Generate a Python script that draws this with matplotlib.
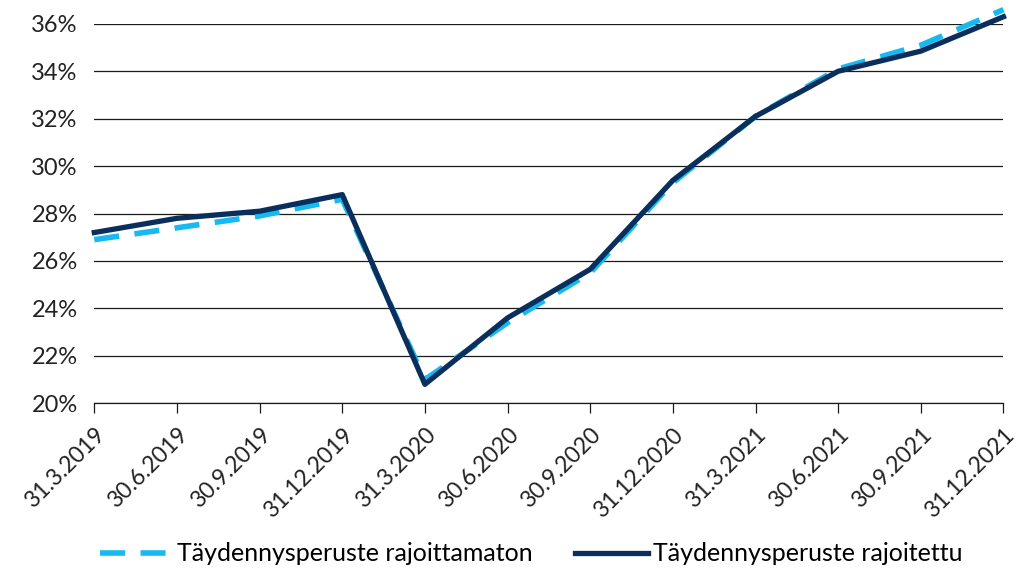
import matplotlib.pyplot as plt
from matplotlib.ticker import FuncFormatter

plt.rcParams['font.family'] = ['Lato', 'DejaVu Sans']

dates = ["31.3.2019", "30.6.2019", "30.9.2019", "31.12.2019",
         "31.3.2020", "30.6.2020", "30.9.2020", "31.12.2020",
         "31.3.2021", "30.6.2021", "30.9.2021", "31.12.2021"]

rajoittamaton = [26.9, 27.4, 27.9, 28.6, 21.0, 23.4, 25.5, 29.3, 32.1, 34.1, 35.1, 36.6]
rajoitettu = [27.2, 27.8, 28.1, 28.8, 20.8, 23.6, 25.65, 29.4, 32.1, 34.0, 34.85, 36.3]

light_blue = "#16B9F0"
navy = "#0B2F5C"

fig = plt.figure(figsize=(10.25, 5.68), dpi=100)
ax = fig.add_axes([0.092, 0.29, 0.887, 0.668])

x = list(range(len(dates)))

ax.plot(x, rajoittamaton, color=light_blue, lw=4, linestyle=(0, (4.5, 2.8)),
        label="Täydennysperuste rajoittamaton", clip_on=False, zorder=3)
ax.plot(x, rajoitettu, color=navy, lw=3.8,
        label="Täydennysperuste rajoitettu", clip_on=False, zorder=4)

ax.set_xlim(0, len(dates) - 1)
ax.set_ylim(20, 36)
ax.set_yticks(range(20, 37, 2))
ax.yaxis.set_major_formatter(FuncFormatter(lambda v, p: f"{v:.0f}%"))
ax.grid(axis="y", color="#1a1a1a", lw=0.9)
ax.set_axisbelow(True)

ax.set_xticks(x)
ax.set_xticklabels(dates, rotation=45, ha="right", rotation_mode="anchor")

for s in ["top", "right", "left"]:
    ax.spines[s].set_visible(False)
ax.spines["bottom"].set_color("#1a1a1a")
ax.spines["bottom"].set_linewidth(0.9)

ax.tick_params(axis="y", length=0, labelsize=17, pad=12, colors="#222222")
ax.tick_params(axis="x", length=7, width=0.9, labelsize=16.5, pad=8, colors="#1a1a1a",
               labelcolor="#222222")

fig.legend(loc="lower center", bbox_to_anchor=(0.518, -0.035), ncol=2, frameon=False,
           fontsize=18, handlelength=2.9, columnspacing=1.7, handletextpad=0.2)

plt.savefig("out.png", dpi=100)
